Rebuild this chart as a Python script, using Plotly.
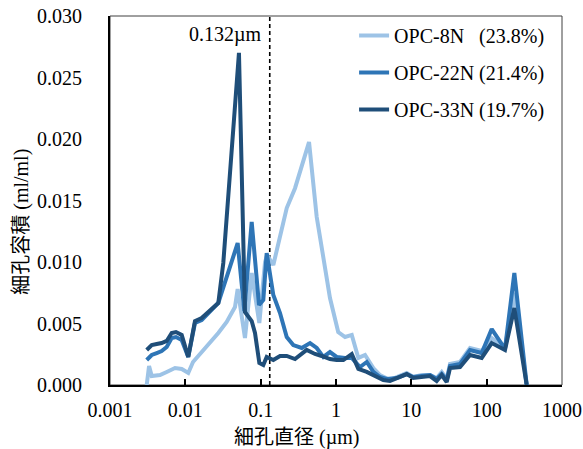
import numpy as np
import plotly.graph_objects as go

# ---- data (pore diameter in µm, pore volume in ml/ml) ----
d_8n = [0.00307, 0.0033, 0.00358, 0.00461, 0.00566, 0.00729, 0.00895, 0.01094, 0.01265,
        0.01648, 0.0212, 0.0274, 0.0354, 0.0456, 0.0495, 0.0619, 0.0760, 0.0960, 0.1143,
        0.1216, 0.1472, 0.2218, 0.2858, 0.4385, 0.5545, 0.714, 0.832, 1.07, 1.32, 1.62,
        1.98, 2.43, 3.13, 3.84, 5.21, 6.40, 8.69, 10.6, 13.7, 17.7, 21.7, 25.3, 29.5,
        32.6, 44.3, 60.1, 85.9, 116.7, 175, 233, 340]
v_8n = [0.0, 0.00154, 0.00073, 0.00081, 0.00106, 0.00138, 0.0013, 0.00098, 0.00187,
        0.00268, 0.00341, 0.00423, 0.00512, 0.00634, 0.0078, 0.00382, 0.0091, 0.00504, 0.0100,
        0.01057, 0.00976, 0.01439, 0.0160, 0.01975, 0.01366, 0.00935, 0.00707, 0.00431, 0.0039, 0.00407,
        0.0022, 0.00244, 0.00138, 0.00081, 0.00041, 0.00065, 0.00098, 0.00065, 0.00081, 0.00081, 0.00057, 0.00106, 0.00049,
        0.00171, 0.00187, 0.00301, 0.00276, 0.00382, 0.00301, 0.0075, 0.0]

d_22n = [0.00307, 0.00358, 0.00417, 0.00485, 0.00566, 0.00659, 0.00751, 0.00895, 0.01094,
         0.01342, 0.01648, 0.0212, 0.0274, 0.0495, 0.0607, 0.0760, 0.0951, 0.1084, 0.1202,
         0.1472, 0.1807, 0.2218, 0.271, 0.351, 0.452, 0.5545, 0.679, 0.832, 1.02, 1.32,
         1.62, 2.08, 2.56, 3.13, 3.84, 4.71, 6.40, 8.69, 10.6, 13.7, 17.7, 21.7, 25.3, 29.5,
         32.6, 44.3, 60.1, 85.9, 116.7, 175, 233, 340]
v_22n = [0.00203, 0.00244, 0.0026, 0.00276, 0.00309, 0.00382, 0.0039, 0.00366, 0.00228,
         0.00504, 0.00528, 0.00593, 0.00667, 0.01154, 0.00602, 0.01325, 0.0065, 0.00691, 0.01073,
         0.00732, 0.00585, 0.0039, 0.00325, 0.00301, 0.00341, 0.00301, 0.00228, 0.00268, 0.00228, 0.0022,
         0.0022, 0.00146, 0.00187, 0.00106, 0.00065, 0.00049, 0.00057, 0.00089, 0.00065, 0.00073, 0.00081, 0.00049, 0.00089, 0.00041,
         0.00154, 0.00171, 0.00285, 0.0026, 0.00455, 0.00293, 0.0091, 0.0]

d_33n = [0.00307, 0.00358, 0.00417, 0.00485, 0.00566, 0.00659, 0.00751, 0.00895, 0.01094,
         0.01342, 0.01648, 0.0212, 0.0274, 0.0319, 0.0515, 0.0619, 0.0760, 0.0841, 0.0960,
         0.1084, 0.1202, 0.1472, 0.1807, 0.2218, 0.2858, 0.408, 0.526, 0.645, 0.832, 1.02,
         1.25, 1.62, 1.98, 2.56, 3.30, 4.25, 5.21, 6.40, 8.69, 10.6, 13.7, 17.7, 21.7, 25.3,
         29.5, 32.6, 44.3, 60.1, 85.9, 116.7, 175, 233, 340]
v_33n = [0.00285, 0.00325, 0.00333, 0.00341, 0.00358, 0.00423, 0.00431, 0.00407, 0.00228,
         0.0052, 0.00545, 0.0061, 0.00667, 0.00992, 0.0270, 0.00593, 0.0052, 0.00423, 0.00179,
         0.00163, 0.00228, 0.00203, 0.00236, 0.00236, 0.00211, 0.00285, 0.00252, 0.00236, 0.00211, 0.00203,
         0.00203, 0.00252, 0.0013, 0.00106, 0.00073, 0.00041, 0.00033, 0.00057, 0.00089, 0.00057, 0.00065, 0.00073, 0.00033, 0.00081,
         0.00024, 0.00138, 0.00146, 0.00244, 0.0022, 0.00341, 0.00285, 0.00626, 0.0]

series_names = ["OPC-8N\u00a0\u00a0\u00a0(23.8%)", "OPC-22N\u00a0(21.4%)", "OPC-33N\u00a0(19.7%)"]
series_colors = ["#9DC3E6", "#2E75B6", "#1F4E79"]

marker_d = 0.132
x_tickvals = [0.001, 0.01, 0.1, 1, 10, 100, 1000]
x_ticktext = ["0.001", "0.01", "0.1", "1", "10", "100", "1000"]
y_tickvals = [0.0, 0.005, 0.010, 0.015, 0.020, 0.025, 0.030]

FONT = "Liberation Serif, Noto Sans CJK JP, serif"

fig = go.Figure()

# dashed reference line
fig.add_trace(go.Scatter(x=[marker_d, marker_d], y=[0, 0.030], mode="lines",
                         line=dict(color="black", width=1.6, dash="4px,3px"),
                         showlegend=False, hoverinfo="skip"))

for i, (dx, vy) in enumerate([(d_8n, v_8n), (d_22n, v_22n), (d_33n, v_33n)]):
    fig.add_trace(go.Scatter(x=dx, y=vy, mode="lines", name=series_names[i],
                             legendgroup=f"g{i}",
                             line=dict(color=series_colors[i], width=4)))

fig.update_layout(
    width=583, height=449,
    margin=dict(l=110, r=21, t=16, b=64, autoexpand=False),
    paper_bgcolor="white", plot_bgcolor="white",
    font=dict(family=FONT, size=20, color="black"),
    legend=dict(x=0.54, y=1.0, xanchor="left", yanchor="top",
                bgcolor="rgba(0,0,0,0)", traceorder="grouped", tracegroupgap=8,
                font=dict(family=FONT, size=20, color="black")),
    showlegend=True,
)

fig.update_xaxes(type="log", range=[-3, 3], tickvals=x_tickvals, ticktext=x_ticktext,
                 showgrid=False, zeroline=False, showline=True, linecolor="black", linewidth=2,
                 ticks="inside", ticklen=6, tickwidth=2, tickcolor="black",
                 ticklabelstandoff=6, tickfont=dict(family=FONT, size=20))
fig.update_yaxes(range=[0, 0.030], tickvals=y_tickvals, tickformat=".3f",
                 showgrid=False, zeroline=False, showline=True, linecolor="black", linewidth=2,
                 ticks="", ticklabelstandoff=22, tickfont=dict(family=FONT, size=20))

# plot frame (top / right)
fig.add_shape(type="rect", xref="paper", yref="paper", x0=0, x1=1, y0=0, y1=1,
              line=dict(color="#404040", width=1), layer="below")

# annotations
fig.add_annotation(x=np.log10(marker_d), y=0.0285, xref="x", yref="y",
                   text="0.132µm", showarrow=False, xanchor="right", yanchor="middle",
                   xshift=-6, font=dict(family=FONT, size=20))
fig.add_annotation(x=0.4137, y=-0.141, xref="paper", yref="paper",
                   text="細孔直径 (µm)", showarrow=False, xanchor="center", yanchor="middle",
                   font=dict(family=FONT, size=20))
fig.add_annotation(x=-0.195, y=0.442, xref="paper", yref="paper",
                   text="細孔容積 (ml/ml)", showarrow=False, textangle=-90,
                   xanchor="center", yanchor="middle",
                   font=dict(family=FONT, size=20))

fig.write_html("out.html")
